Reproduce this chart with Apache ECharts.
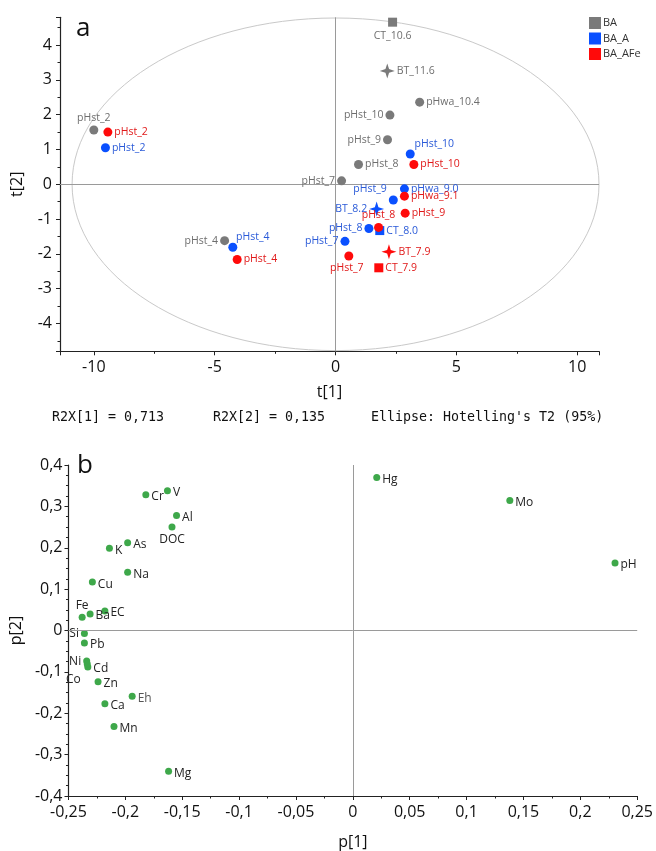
<!DOCTYPE html>
<html>
<head>
<meta charset="utf-8">
<script src="https://cdn.jsdelivr.net/npm/echarts@6/dist/echarts.min.js"></script>
<style>
  html, body { margin: 0; padding: 0; background: #fff; }
  #main { width: 656px; height: 851px; }
</style>
</head>
<body>
<div id="main"></div>
<script>
// scores plot (a) - t[1] / t[2]
var baNames = ['pHst_2', 'CT_10.6', 'BT_11.6', 'pHwa_10.4', 'pHst_10', 'pHst_9', 'pHst_8', 'pHst_7', 'pHst_4'];
var baT1 = [-10.0, 2.36, 2.14, 3.48, 2.25, 2.15, 0.95, 0.25, -4.59];
var baT2 = [1.56, 4.66, 3.26, 2.36, 1.99, 1.28, 0.57, 0.10, -1.62];

var baANames = ['pHst_2', 'pHst_10', 'pHwa_9.0', 'pHst_9', 'BT_8.2', 'pHst_8', 'CT_8.0', 'pHst_7', 'pHst_4'];
var baAT1 = [-9.52, 3.09, 2.85, 2.39, 1.70, 1.38, 1.83, 0.39, -4.25];
var baAT2 = [1.05, 0.87, -0.13, -0.45, -0.71, -1.27, -1.33, -1.64, -1.81];

var baAFeNames = ['pHst_2', 'pHst_10', 'pHwa_9.1', 'pHst_9', 'pHst_8', 'BT_7.9', 'pHst_7', 'CT_7.9', 'pHst_4'];
var baAFeT1 = [-9.42, 3.24, 2.85, 2.88, 1.78, 2.21, 0.55, 1.79, -4.07];
var baAFeT2 = [1.50, 0.57, -0.34, -0.83, -1.24, -1.94, -2.06, -2.40, -2.16];

// Hotelling's T2 ellipse semi-axes (t[1], t[2])
var ellipseT1 = 10.9;
var ellipseT2 = 4.78;

// loadings plot (b) - p[1] / p[2]
var varNames = ['Cr', 'V', 'Al', 'DOC', 'As', 'K', 'Na', 'Cu', 'EC', 'Ba', 'Fe', 'Si', 'Pb',
  'Ni', 'Cd', 'Co', 'Zn', 'Eh', 'Ca', 'Mn', 'Mg', 'Hg', 'Mo', 'pH'];
var varP1 = [-0.182, -0.163, -0.155, -0.159, -0.198, -0.214, -0.198, -0.229, -0.218, -0.231, -0.238, -0.236, -0.236,
  -0.234, -0.233, -0.2335, -0.224, -0.194, -0.218, -0.210, -0.162, 0.021, 0.138, 0.2305];
var varP2 = [0.328, 0.338, 0.278, 0.250, 0.212, 0.199, 0.141, 0.117, 0.047, 0.040, 0.032, -0.007, -0.030,
  -0.074, -0.088, -0.081, -0.124, -0.159, -0.177, -0.232, -0.340, 0.370, 0.314, 0.163];

var groupColors = { BA: '#7a7a7a', BA_A: '#0a50ff', BA_AFe: '#ff0a0a' };
var labelColors = { BA: '#6e6e6e', BA_A: '#2a5ad8', BA_AFe: '#e01818' };

// label placement per point (style only)
var labelPlace = {
  'BA:pHst_2': ['top', [0, 0]],
  'BA:CT_10.6': ['bottom', [0, 2]],
  'BA:pHst_10': ['left', [0, 0]],
  'BA:pHst_9': ['left', [0, 0]],
  'BA:pHst_7': ['left', [0, 0]],
  'BA:pHst_4': ['left', [0, 0]],
  'BA_A:pHst_10': ['top', [24, 2]],
  'BA_A:pHst_9': ['left', [0, -11]],
  'BA_A:BT_8.2': ['left', [0, 0]],
  'BA_A:pHst_8': ['left', [0, 0]],
  'BA_A:pHst_7': ['left', [0, 0]],
  'BA_A:pHst_4': ['top', [20, 2]],
  'BA_AFe:pHst_8': ['top', [0, 0]],
  'BA_AFe:pHst_7': ['bottom', [-2, 0]]
};
var varLabelPlace = {
  'DOC': ['bottom', [0, 1]],
  'Fe': ['top', [0, 0]],
  'Si': ['left', [0, 0]],
  'Ni': ['left', [0, 0]],
  'Co': ['left', [-1, 16]]
};

var star = 'path://M0,-10 L2.4,-2.4 L10,0 L2.4,2.4 L0,10 L-2.4,2.4 L-10,0 L-2.4,-2.4 Z';

function markerOf(name) {
  if (name.indexOf('CT_') === 0) return { symbol: 'rect', size: 9 };
  if (name.indexOf('BT_') === 0) return { symbol: star, size: 15 };
  return { symbol: 'circle', size: 9 };
}

function scoreSeries(group, names, xs, ys) {
  var data = [];
  for (var i = 0; i < names.length; i++) {
    var m = markerOf(names[i]);
    var lp = labelPlace[group + ':' + names[i]] || ['right', [0, 0]];
    data.push({
      name: names[i],
      value: [xs[i], ys[i]],
      symbol: m.symbol,
      symbolSize: m.size,
      label: { position: lp[0], offset: lp[1] }
    });
  }
  return {
    name: group,
    type: 'scatter',
    xAxisIndex: 0,
    yAxisIndex: 0,
    z: 5,
    itemStyle: { color: groupColors[group], opacity: 1 },
    label: {
      show: true,
      formatter: '{b}',
      distance: 2,
      color: labelColors[group],
      fontFamily: 'Open Sans',
      fontSize: 10.5
    },
    data: data
  };
}

var loadData = [];
for (var i = 0; i < varNames.length; i++) {
  var vp = varLabelPlace[varNames[i]] || ['right', [0, 2]];
  loadData.push({
    name: varNames[i],
    value: [varP1[i], varP2[i]],
    label: { position: vp[0], offset: vp[1], color: varNames[i] === 'Eh' ? '#555' : '#222' }
  });
}

function commaFmt(v) {
  return String(Math.round(v * 1000) / 1000).replace('.', ',');
}

var axisBase = {
  axisLine: { onZero: false, lineStyle: { color: '#222', width: 1.2 } },
  axisTick: { length: 4, lineStyle: { color: '#222' } },
  minorTick: { show: true, length: 2.5, lineStyle: { color: '#222' } },
  splitLine: { show: false },
  axisLabel: { color: '#111', fontFamily: 'Open Sans', fontSize: 16, showMinLabel: false, showMaxLabel: false },
  nameLocation: 'middle',
  nameTextStyle: { color: '#111', fontFamily: 'Open Sans', fontSize: 16 }
};

function axis(extra) {
  return echarts.util.merge(echarts.util.clone(axisBase), extra, true);
}

var zeroLines = {
  silent: true,
  symbol: 'none',
  label: { show: false },
  lineStyle: { color: '#9a9a9a', type: 'solid', width: 1 },
  data: [{ xAxis: 0 }, { yAxis: 0 }]
};

var option = {
  animation: false,
  backgroundColor: '#fff',
  textStyle: { fontFamily: 'Open Sans' },
  grid: [
    { left: 60, top: 17.3, width: 539, height: 334 },
    { left: 66, top: 465, width: 574, height: 335.7 }
  ],
  xAxis: [
    axis({ gridIndex: 0, type: 'value', min: -11.4, max: 10.9, name: 't[1]', nameGap: 33,
      minorTick: { splitNumber: 2 } }),
    axis({ gridIndex: 1, type: 'value', min: -0.25, max: 0.25, interval: 0.05, name: 'p[1]', nameGap: 38,
      minorTick: { splitNumber: 2 },
      axisLabel: { showMinLabel: true, showMaxLabel: true, formatter: commaFmt } })
  ],
  yAxis: [
    axis({ gridIndex: 0, type: 'value', min: -4.8, max: 4.8, splitNumber: 10, name: 't[2]', nameGap: 35,
      minorTick: { splitNumber: 2 } }),
    axis({ gridIndex: 1, type: 'value', min: -0.4, max: 0.4, interval: 0.1, name: 'p[2]', nameGap: 41,
      minorTick: { splitNumber: 4 },
      axisLabel: { showMinLabel: true, showMaxLabel: true, margin: 6, formatter: commaFmt } })
  ],
  legend: {
    left: 584,
    top: 12,
    orient: 'vertical',
    icon: 'rect',
    itemWidth: 12,
    itemHeight: 12,
    itemGap: 3.5,
    textStyle: { fontFamily: 'Open Sans', fontSize: 11, color: '#333', padding: [0, 0, 0, -3] },
    data: ['BA', 'BA_A', 'BA_AFe']
  },
  graphic: [
    { type: 'text', left: 76, top: 16, style: { text: 'a', font: '26px "Open Sans"', fill: '#111' } },
    { type: 'text', left: 77, top: 453, style: { text: 'b', font: '26px "Open Sans"', fill: '#111' } },
    { type: 'text', left: 52, top: 411, style: { text: 'R2X[1] = 0,713', font: '13.3px "DejaVu Sans Mono"', fill: '#111' } },
    { type: 'text', left: 213, top: 411, style: { text: 'R2X[2] = 0,135', font: '13.3px "DejaVu Sans Mono"', fill: '#111' } },
    { type: 'text', left: 371, top: 411, style: { text: "Ellipse: Hotelling's T2 (95%)", font: '13.3px "DejaVu Sans Mono"', fill: '#111' } }
  ],
  series: [
    {
      type: 'custom',
      xAxisIndex: 0,
      yAxisIndex: 0,
      silent: true,
      z: 1,
      data: [[0, 0]],
      renderItem: function (params, api) {
        var c = api.coord([api.value(0), api.value(1)]);
        var s = api.size([ellipseT1, ellipseT2]);
        return {
          type: 'ellipse',
          shape: { cx: c[0], cy: c[1], rx: s[0], ry: s[1] },
          style: { fill: 'none', stroke: '#c9c9c9', lineWidth: 1 }
        };
      },
      markLine: zeroLines
    },
    scoreSeries('BA', baNames, baT1, baT2),
    scoreSeries('BA_A', baANames, baAT1, baAT2),
    scoreSeries('BA_AFe', baAFeNames, baAFeT1, baAFeT2),
    {
      name: 'loadings',
      type: 'scatter',
      xAxisIndex: 1,
      yAxisIndex: 1,
      symbolSize: 7,
      itemStyle: { color: '#3ea84a', opacity: 1 },
      label: { show: true, formatter: '{b}', distance: 2, fontFamily: 'Open Sans', fontSize: 12 },
      markLine: zeroLines,
      data: loadData
    }
  ]
};

var myChart = echarts.init(document.getElementById('main'));
myChart.setOption(option);
</script>
</body>
</html>
